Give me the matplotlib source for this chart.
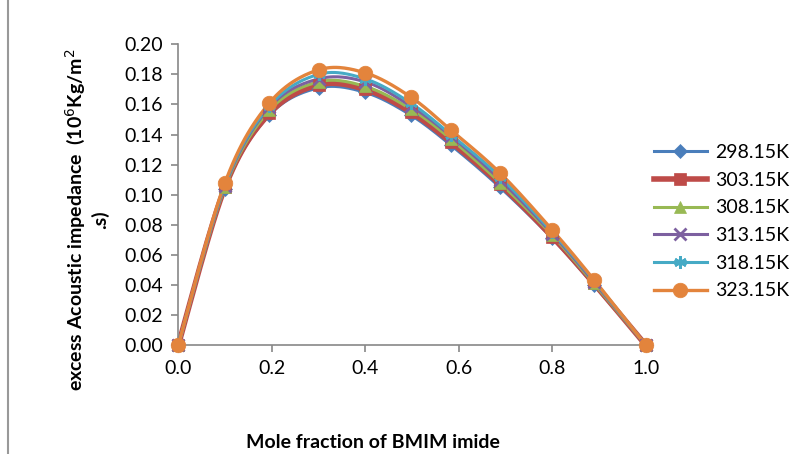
import numpy as np
import matplotlib
matplotlib.use("Agg")
import matplotlib.pyplot as plt
from matplotlib.lines import Line2D

plt.rcParams['font.family'] = ['Lato', 'DejaVu Sans']

x_frac = [0.0, 0.1, 0.195, 0.3, 0.4, 0.497, 0.583, 0.688, 0.8, 0.889, 1.0]

series_names = ["298.15K", "303.15K", "308.15K", "313.15K", "318.15K", "323.15K"]
y_298 = [0.0, 0.104, 0.153, 0.171, 0.168, 0.153, 0.133, 0.105, 0.071, 0.040, 0.0]
y_303 = [0.0, 0.105, 0.154, 0.173, 0.170, 0.155, 0.135, 0.107, 0.072, 0.041, 0.0]
y_308 = [0.0, 0.105, 0.156, 0.175, 0.172, 0.157, 0.137, 0.108, 0.073, 0.041, 0.0]
y_313 = [0.0, 0.106, 0.158, 0.177, 0.175, 0.159, 0.139, 0.110, 0.074, 0.042, 0.0]
y_318 = [0.0, 0.107, 0.159, 0.180, 0.177, 0.161, 0.140, 0.112, 0.075, 0.043, 0.0]
y_323 = [0.0, 0.108, 0.161, 0.183, 0.181, 0.165, 0.143, 0.1145, 0.0765, 0.0435, 0.0]
all_y = [y_298, y_303, y_308, y_313, y_318, y_323]

colors = ["#4A7EBB", "#BE4B48", "#98B954", "#7D60A0", "#46AAC5", "#E3843C"]
markers = ["D", "s", "^", "x", (6, 2, 0), "o"]
msizes = [7, 8, 9, 8, 9, 10.5]
lwidths = [2.2, 4.0, 2.2, 2.2, 2.2, 2.4]


def excel_smooth(xs, ys, n=30):
    P = np.column_stack([xs, ys]).astype(float)
    m = len(P)
    out = [P[0]]
    t = np.linspace(0, 1, n)[1:]
    for i in range(m - 1):
        p0 = P[i - 1] if i > 0 else P[i]
        p1 = P[i]
        p2 = P[i + 1]
        p3 = P[i + 2] if i + 2 < m else P[i + 1]
        c1 = p1 + (p2 - p0) / 6.0
        c2 = p2 - (p3 - p1) / 6.0
        for tt in t:
            b = ((1 - tt) ** 3) * p1 + 3 * ((1 - tt) ** 2) * tt * c1 + 3 * (1 - tt) * tt ** 2 * c2 + tt ** 3 * p2
            out.append(b)
    out = np.array(out)
    return out[:, 0], out[:, 1]


W, H = 798, 454
fig = plt.figure(figsize=(W / 100, H / 100), dpi=100)
ax = fig.add_axes([178.3 / W, 1 - 345 / H, (645.7 - 178.3) / W, (345 - 44.3) / H])

handles = []
for name, ys, c, mk, ms, lw in zip(series_names, all_y, colors, markers, msizes, lwidths):
    sx, sy = excel_smooth(x_frac, ys)
    ax.plot(sx, sy, color=c, lw=lw, clip_on=False, zorder=2, solid_capstyle='round')
    mew = 2 if mk in ("x", (6, 2, 0)) else 0.5
    ax.plot(x_frac, ys, linestyle='none', marker=mk, markersize=ms, color=c,
            markeredgecolor=c, markeredgewidth=mew, clip_on=False, zorder=3)
    handles.append(Line2D([0], [0], color=c, lw=lw, marker=mk, markersize=ms,
                          markeredgecolor=c, markeredgewidth=mew))

ax.set_xlim(0, 1.0)
ax.set_ylim(0, 0.2)
ax.set_xticks(np.arange(0, 1.01, 0.2))
ax.set_yticks(np.arange(0, 0.201, 0.02))
ax.set_xticklabels([f"{v:.1f}" for v in np.arange(0, 1.01, 0.2)])
ax.set_yticklabels([f"{v:.2f}" for v in np.arange(0, 0.201, 0.02)])
for s in ["top", "right"]:
    ax.spines[s].set_visible(False)
for s in ["left", "bottom"]:
    ax.spines[s].set_color("#888888")
    ax.spines[s].set_linewidth(1.2)
ax.tick_params(axis='both', direction='out', length=5, color="#888888", width=1.2,
               labelsize=14, labelcolor="#000000")
ax.tick_params(axis='x', pad=6)
ax.tick_params(axis='y', pad=6)

fig.text(373 / W, 1 - 442 / H, "Mole fraction of BMIM imide", fontsize=14,
         fontweight='bold', ha='center', va='center')
fig.text(86 / W, 1 - 220 / H, "excess Acoustic impedance  (10$^{6}$Kg/m$^{2}$\n.s)",
         fontsize=14, fontweight='bold', rotation=90, ha='center', va='center',
         multialignment='center', linespacing=1.25)

leg = ax.legend(handles, series_names, loc='upper left', bbox_to_anchor=(654 / W, 1 - 144 / H),
                bbox_transform=fig.transFigure, frameon=False, fontsize=14,
                handlelength=2.7, labelspacing=0.55, handletextpad=0.45, borderpad=0,
                borderaxespad=0)

fig.add_artist(Line2D([8 / W, 8 / W], [0, 1], color="#999999", lw=1.5,
                      transform=fig.transFigure))

fig.savefig("out.png", dpi=100)
